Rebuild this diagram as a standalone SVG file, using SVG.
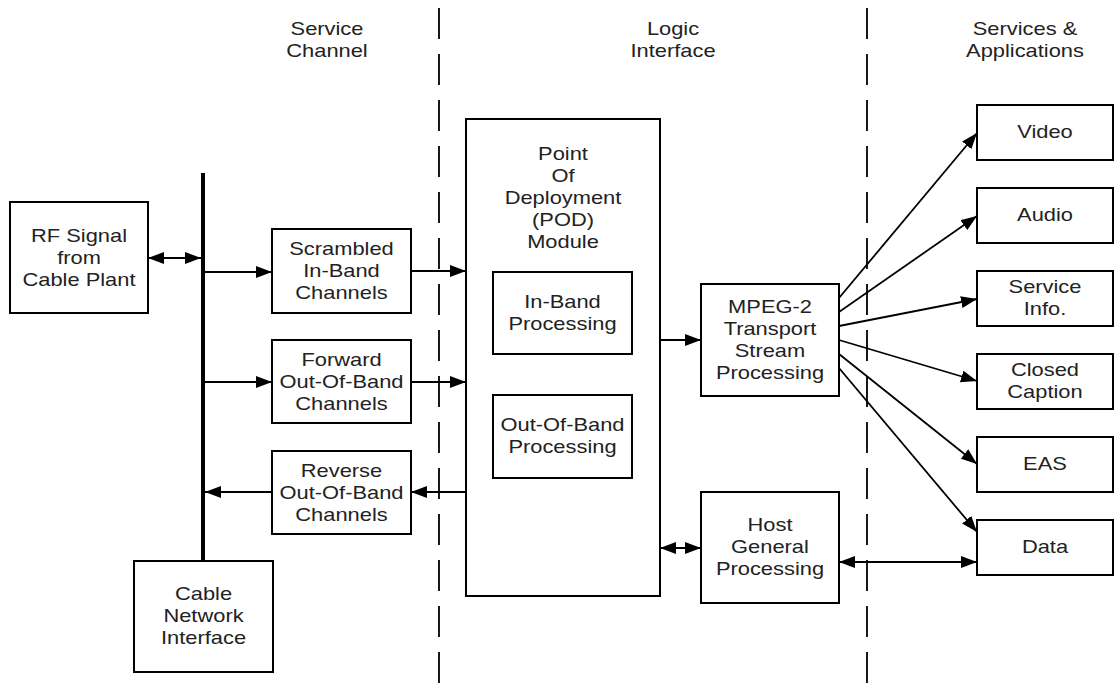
<svg xmlns="http://www.w3.org/2000/svg" width="1116" height="683" viewBox="0 0 1116 683">
<style>
.box{fill:#fff;stroke:#000;stroke-width:2}
.t{font-family:"Liberation Sans",Arial,sans-serif;font-size:17.5px;fill:#222;text-anchor:middle}
.c{stroke:#000;stroke-width:1.8;fill:none}
.dash{stroke:#000;stroke-width:1.8;stroke-dasharray:31 15;fill:none}
</style>
<defs>
<marker id="ah" markerUnits="userSpaceOnUse" markerWidth="17" markerHeight="13" refX="16" refY="6" orient="auto-start-reverse" viewBox="0 0 17 12">
<path d="M0,0 L16,6 L0,12 z" fill="#000"/>
</marker>
</defs>
<rect width="1116" height="683" fill="#fff"/>

<g id="headers">
<text class="t" transform="translate(327 0) scale(1.25 1)"><tspan x="0" y="35">Service</tspan><tspan x="0" y="57">Channel</tspan></text>
<text class="t" transform="translate(673 0) scale(1.25 1)"><tspan x="0" y="35">Logic</tspan><tspan x="0" y="57">Interface</tspan></text>
<text class="t" transform="translate(1025 0) scale(1.25 1)"><tspan x="0" y="35">Services &amp;</tspan><tspan x="0" y="57">Applications</tspan></text>
</g>

<g id="dividers">
<line class="dash" x1="439" y1="8" x2="439" y2="683"/>
<line class="dash" x1="867" y1="8" x2="867" y2="683"/>
</g>

<g id="bus">
<line x1="203" y1="173" x2="203" y2="561" stroke="#000" stroke-width="4"/>
</g>

<g id="rf">
<rect class="box" x="10" y="202" width="138" height="111"/>
<text class="t" transform="translate(79 0) scale(1.25 1)"><tspan x="0" y="242">RF Signal</tspan><tspan x="0" y="264">from</tspan><tspan x="0" y="286">Cable Plant</tspan></text>
</g>

<g id="cni">
<rect class="box" x="134" y="561" width="139" height="111"/>
<text class="t" transform="translate(203.5 0) scale(1.25 1)"><tspan x="0" y="600.5">Cable</tspan><tspan x="0" y="622.5">Network</tspan><tspan x="0" y="644.5">Interface</tspan></text>
</g>

<g id="scrambled">
<rect class="box" x="272" y="229" width="139" height="84"/>
<text class="t" transform="translate(341.5 0) scale(1.25 1)"><tspan x="0" y="255">Scrambled</tspan><tspan x="0" y="277">In-Band</tspan><tspan x="0" y="299">Channels</tspan></text>
</g>

<g id="forward">
<rect class="box" x="272" y="340" width="139" height="83"/>
<text class="t" transform="translate(341.5 0) scale(1.25 1)"><tspan x="0" y="366">Forward</tspan><tspan x="0" y="388">Out-Of-Band</tspan><tspan x="0" y="410">Channels</tspan></text>
</g>

<g id="reverse">
<rect class="box" x="272" y="451" width="139" height="83"/>
<text class="t" transform="translate(341.5 0) scale(1.25 1)"><tspan x="0" y="477">Reverse</tspan><tspan x="0" y="499">Out-Of-Band</tspan><tspan x="0" y="521">Channels</tspan></text>
</g>

<g id="pod">
<rect class="box" x="466" y="119" width="194" height="477"/>
<text class="t" transform="translate(563 0) scale(1.25 1)"><tspan x="0" y="160">Point</tspan><tspan x="0" y="182">Of</tspan><tspan x="0" y="204">Deployment</tspan><tspan x="0" y="226">(POD)</tspan><tspan x="0" y="248">Module</tspan></text>
</g>

<g id="inband">
<rect class="box" x="493" y="272" width="139" height="82"/>
<text class="t" transform="translate(562.5 0) scale(1.25 1)"><tspan x="0" y="308">In-Band</tspan><tspan x="0" y="330">Processing</tspan></text>
</g>

<g id="oob">
<rect class="box" x="493" y="395" width="139" height="83"/>
<text class="t" transform="translate(562.5 0) scale(1.25 1)"><tspan x="0" y="431.5">Out-Of-Band</tspan><tspan x="0" y="453.5">Processing</tspan></text>
</g>

<g id="mpeg">
<rect class="box" x="701" y="284" width="138" height="112"/>
<text class="t" transform="translate(770 0) scale(1.25 1)"><tspan x="0" y="313">MPEG-2</tspan><tspan x="0" y="335">Transport</tspan><tspan x="0" y="357">Stream</tspan><tspan x="0" y="379">Processing</tspan></text>
</g>

<g id="host">
<rect class="box" x="701" y="492" width="138" height="111"/>
<text class="t" transform="translate(770 0) scale(1.25 1)"><tspan x="0" y="531">Host</tspan><tspan x="0" y="553">General</tspan><tspan x="0" y="575">Processing</tspan></text>
</g>

<g id="video">
<rect class="box" x="977" y="105" width="136" height="55"/>
<text class="t" transform="translate(1045 0) scale(1.25 1)"><tspan x="0" y="138.5">Video</tspan></text>
</g>
<g id="audio">
<rect class="box" x="977" y="188" width="136" height="55"/>
<text class="t" transform="translate(1045 0) scale(1.25 1)"><tspan x="0" y="221.5">Audio</tspan></text>
</g>
<g id="serviceinfo">
<rect class="box" x="977" y="271" width="136" height="55"/>
<text class="t" transform="translate(1045 0) scale(1.25 1)"><tspan x="0" y="293.5">Service</tspan><tspan x="0" y="315.5">Info.</tspan></text>
</g>
<g id="closedcaption">
<rect class="box" x="977" y="354" width="136" height="55"/>
<text class="t" transform="translate(1045 0) scale(1.25 1)"><tspan x="0" y="376.5">Closed</tspan><tspan x="0" y="398.5">Caption</tspan></text>
</g>
<g id="eas">
<rect class="box" x="977" y="437" width="136" height="55"/>
<text class="t" transform="translate(1045 0) scale(1.25 1)"><tspan x="0" y="470.5">EAS</tspan></text>
</g>
<g id="data">
<rect class="box" x="977" y="520" width="136" height="55"/>
<text class="t" transform="translate(1045 0) scale(1.25 1)"><tspan x="0" y="553.5">Data</tspan></text>
</g>

<g id="connectors">
<line class="c" x1="148" y1="258" x2="201" y2="258" marker-start="url(#ah)" marker-end="url(#ah)"/>
<line class="c" x1="205" y1="272" x2="272" y2="272" marker-end="url(#ah)"/>
<line class="c" x1="205" y1="382" x2="272" y2="382" marker-end="url(#ah)"/>
<line class="c" x1="272" y1="492" x2="205" y2="492" marker-end="url(#ah)"/>
<line class="c" x1="411" y1="271" x2="466" y2="271" marker-end="url(#ah)"/>
<line class="c" x1="411" y1="382" x2="466" y2="382" marker-end="url(#ah)"/>
<line class="c" x1="466" y1="492" x2="411" y2="492" marker-end="url(#ah)"/>
<line class="c" x1="660" y1="340" x2="701" y2="340" marker-end="url(#ah)"/>
<line class="c" x1="660" y1="548" x2="701" y2="548" marker-start="url(#ah)" marker-end="url(#ah)"/>
<line class="c" x1="839" y1="562" x2="977" y2="562" marker-start="url(#ah)" marker-end="url(#ah)"/>
<line class="c" x1="839" y1="298" x2="977" y2="133" marker-end="url(#ah)"/>
<line class="c" x1="839" y1="312" x2="977" y2="216" marker-end="url(#ah)"/>
<line class="c" x1="839" y1="326" x2="977" y2="299" marker-end="url(#ah)"/>
<line class="c" x1="839" y1="340" x2="977" y2="381" marker-end="url(#ah)"/>
<line class="c" x1="839" y1="354" x2="977" y2="464" marker-end="url(#ah)"/>
<line class="c" x1="839" y1="368" x2="977" y2="532" marker-end="url(#ah)"/>
</g>
</svg>
